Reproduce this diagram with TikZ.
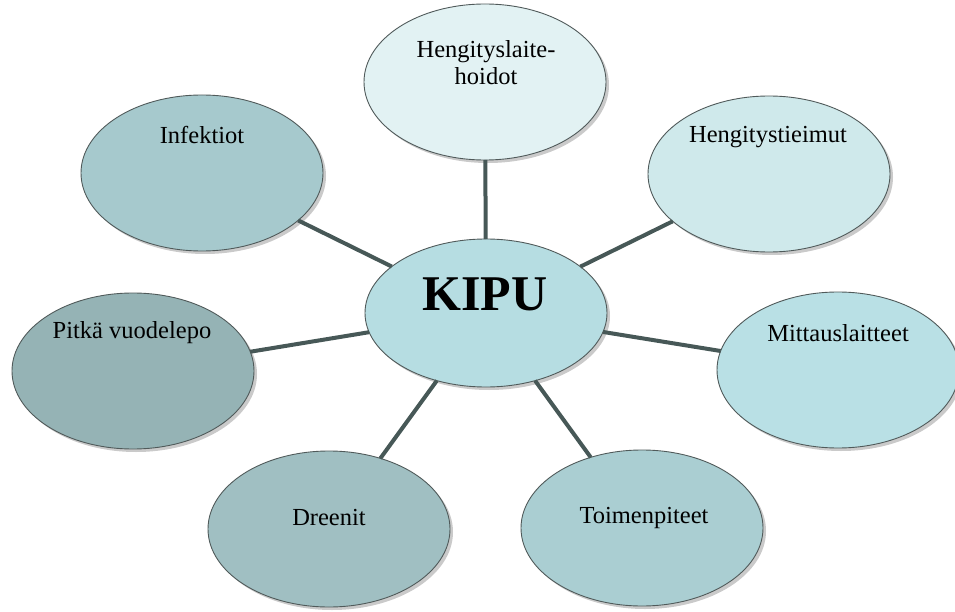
\documentclass[tikz,border=0pt]{standalone}
\usepackage{fontspec}
\setmainfont{Liberation Serif}
\usetikzlibrary{shapes.geometric,shadows}

\definecolor{fillHoito}{HTML}{E2F2F3}
\definecolor{fillTie}{HTML}{CFE9EB}
\definecolor{fillMitta}{HTML}{B9E0E5}
\definecolor{fillKipu}{HTML}{B6DDE2}
\definecolor{fillToimen}{HTML}{AACED2}
\definecolor{fillDreen}{HTML}{A0BFC2}
\definecolor{fillPitka}{HTML}{95B3B5}
\definecolor{fillInfek}{HTML}{A6C9CD}
\definecolor{bubbleEdge}{HTML}{505A5A}
\definecolor{spokeCol}{HTML}{475857}

\begin{document}
\begin{tikzpicture}[x=1pt,y=-1pt,
  bubble/.style={ellipse, draw=bubbleEdge, line width=0.9pt,
    minimum width=242pt, minimum height=156pt, inner sep=0pt, outer sep=0pt,
    drop shadow={shadow xshift=3pt, shadow yshift=-3pt, opacity=0.35, fill=black!60}},
  spoke/.style={draw=spokeCol, line width=4pt},
  caption/.style={font=\fontsize{24.5}{27}\selectfont, align=center, inner sep=0pt}]
\useasboundingbox (0,0) rectangle (955,612);

% outer bubbles and the centre
\node[bubble, fill=fillHoito]  (hoito)  at (485,82)  {};
\node[bubble, fill=fillTie]    (tie)    at (769,174) {};
\node[bubble, fill=fillMitta]  (mitta)  at (838,370) {};
\node[bubble, fill=fillToimen] (toimen) at (642,528) {};
\node[bubble, fill=fillDreen]  (dreen)  at (329,529) {};
\node[bubble, fill=fillPitka]  (pitka)  at (133,371) {};
\node[bubble, fill=fillInfek]  (infek)  at (202,173) {};
\node[bubble, fill=fillKipu, minimum height=148pt] (kipu) at (486,313) {};

% spokes from the centre to each bubble
\foreach \n in {hoito,tie,mitta,toimen,dreen,pitka,infek}
  \draw[spoke] (kipu) -- (\n);

% captions
\node[caption] (tHoito)  at (486,63)  {Hengityslaite-\\hoidot};
\node[caption] (tTie)    at (768,137) {Hengitystieimut};
\node[caption] (tMitta)  at (838,333) {Mittauslaitteet};
\node[caption] (tToimen) at (644,518) {Toimenpiteet};
\node[caption] (tDreen)  at (329,518) {Dreenit};
\node[caption] (tPitka)  at (132,333) {Pitkä vuodelepo};
\node[caption] (tInfek)  at (202,135) {Infektiot};
\node[inner sep=0pt, font=\fontsize{50}{54}\selectfont\bfseries] (tKipu) at (485,294) {KIPU};
\end{tikzpicture}
\end{document}
